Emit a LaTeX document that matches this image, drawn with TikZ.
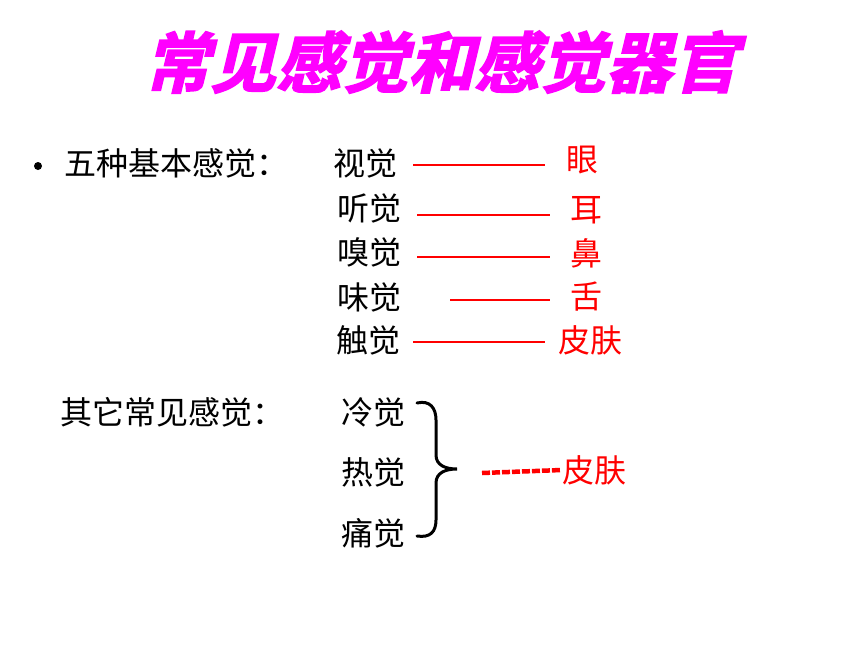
\documentclass[tikz,border=0pt]{standalone}
\usepackage{fontspec}
\newfontfamily\cjk{Noto Sans CJK SC}
\newfontfamily\cjktitle[FakeSlant=0.24,FakeBold=2.5]{Noto Sans CJK SC Bold}
\definecolor{titlemag}{RGB}{255,0,255}
\definecolor{sred}{RGB}{255,0,0}
\begin{document}
\begin{tikzpicture}[x=1pt,y=-1pt,
  txt/.style={inner sep=0pt,anchor=center,font=\cjk\fontsize{32}{32}\selectfont},
  redtxt/.style={txt,text=sred},
  link/.style={draw=sred,line width=1.5pt},
  dlink/.style={draw=sred,line width=4.5pt,dash pattern=on 8pt off 2pt},
  bracestyle/.style={draw=black,line width=3pt,line cap=round}]
\useasboundingbox (0,0) rectangle (860,645);
\node[inner sep=0pt,text=titlemag,font=\cjktitle\fontsize{66}{66}\selectfont] (title) at (441,62) {常见感觉和感觉器官};
\node[circle,fill=black,inner sep=0pt,minimum size=8pt] (bullet) at (38,166) {};
\node[txt,anchor=west] (five) at (64,163) {五种基本感觉：};
\node[txt] (s1) at (365,163) {视觉};
\node[txt] (s2) at (369,208) {听觉};
\node[txt] (s3) at (369,252) {嗅觉};
\node[txt] (s4) at (369,297) {味觉};
\node[txt] (s5) at (368,340) {触觉};
\node[redtxt] (o1) at (582,160) {眼};
\node[redtxt] (o2) at (586,210) {耳};
\node[redtxt] (o3) at (586,253) {鼻};
\node[redtxt] (o4) at (586,297) {舌};
\node[redtxt] (o5) at (590,340) {皮肤};
\coordinate (a1) at (413,165); \coordinate (b1) at (545,165);
\coordinate (a2) at (417,215); \coordinate (b2) at (550,215);
\coordinate (a3) at (417,257); \coordinate (b3) at (550,257);
\coordinate (a4) at (450,300); \coordinate (b4) at (550,300);
\coordinate (a5) at (413,342); \coordinate (b5) at (545,342);
\foreach \i in {1,...,5}{\draw[link] (a\i) -- (b\i);}
\node[txt,anchor=west] (other) at (60,412) {其它常见感觉：};
\node[txt] (c1) at (373,412) {冷觉};
\node[txt] (c2) at (373,472) {热觉};
\node[txt] (c3) at (373,533) {痛觉};
\draw[bracestyle] (417,403) .. controls (430,400) and (436,408) .. (436,420) -- (436,455) .. controls (436,465) and (445,469) .. (457,469) .. controls (445,469) and (436,473) .. (436,483) -- (436,520) .. controls (436,532) and (430,538) .. (417,536);
\coordinate (brtip) at (482,473);
\node[redtxt] (skin) at (594,470) {皮肤};
\draw[dlink] (brtip) -- (skin.west);
\end{tikzpicture}
\end{document}
